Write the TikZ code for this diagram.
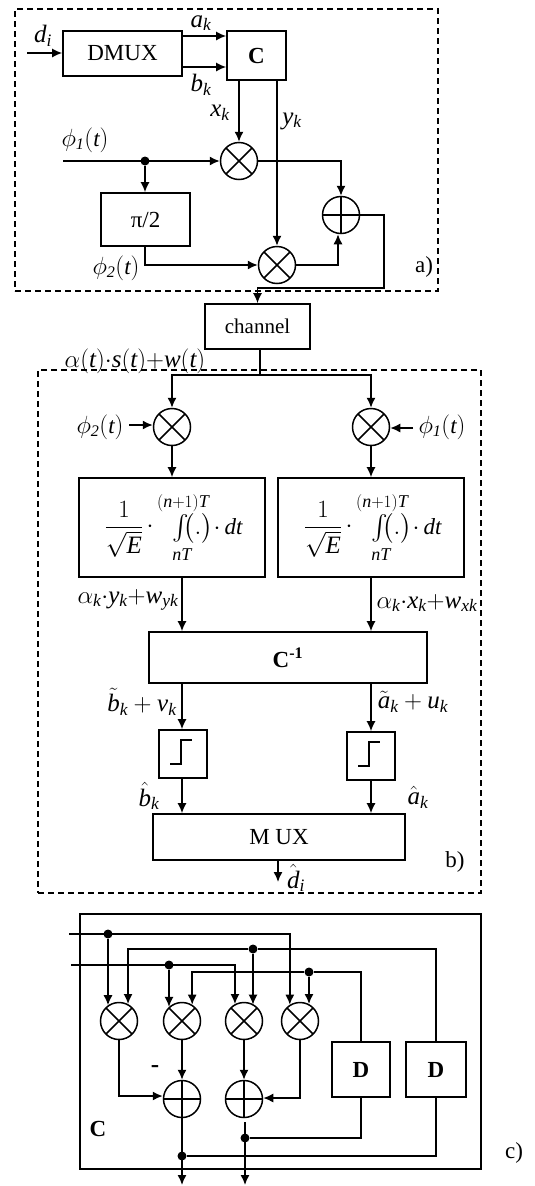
\documentclass[tikz,border=0pt]{standalone}
\usepackage{amsmath}
\usepackage{fontspec}
\setmainfont{Liberation Serif}
\usetikzlibrary{arrows.meta}
\newcommand{\mi}[1]{\mathit{#1}}
\tikzset{
    txtfont/.style={font=\fontsize{23}{26}\selectfont},
    lbl/.style={txtfont, inner sep=0pt},
    biglbl/.style={font=\fontsize{25}{28}\selectfont, inner sep=0pt},
    limlbl/.style={font=\fontsize{18}{21}\selectfont, inner sep=0pt},
    blockbox/.style={draw, line width=1.6pt, inner sep=0pt, txtfont},
    framebox/.style={draw, dashed, dash pattern=on 6pt off 4pt, line width=1.5pt},
    mulnode/.style={circle, draw, line width=1.5pt, minimum size=37pt, inner sep=0pt,
        path picture={\draw[line width=1.5pt] (path picture bounding box.north west) -- (path picture bounding box.south east)
            (path picture bounding box.north east) -- (path picture bounding box.south west);}},
    sumnode/.style={circle, draw, line width=1.5pt, minimum size=37pt, inner sep=0pt,
        path picture={\draw[line width=1.5pt] (path picture bounding box.north) -- (path picture bounding box.south)
            (path picture bounding box.east) -- (path picture bounding box.west);}},
    dotnode/.style={circle, fill=black, minimum size=9pt, inner sep=0pt},
    wire/.style={line width=1.5pt},
    arrowwire/.style={line width=1.5pt, -{Latex[length=10pt,width=9pt]}}
}
\begin{document}
\begin{tikzpicture}[x=1pt,y=-1pt]
    \useasboundingbox (0,0) rectangle (535,1186);

    % Transmitter frame
    \node[framebox, minimum width=423pt, minimum height=282pt] (framea) at (226.5,150) {};
    \node[lbl] (labela) at (424,267) {a)};
    \node[blockbox, minimum width=119pt, minimum height=45pt] (dmux) at (122.5,53.5) {DMUX};
    \node[blockbox, minimum width=59pt, minimum height=49pt] (cmap) at (256.5,55.5) {\textbf{C}};
    \node[mulnode] (mula) at (239,161) {};
    \node[mulnode] (mulb) at (277,265) {};
    \node[sumnode] (suma) at (341,215) {};
    \node[blockbox, minimum width=89pt, minimum height=53pt] (shift) at (145.5,219.5) {π/2};
    \node[dotnode] (dotphi) at (145,161) {};
    \coordinate (din) at (27,53);
    \coordinate (phiin) at (63,161);

    \node[biglbl] (di) at (43,36) {$\mi{d}_{\mi{i}}$};
    \node[biglbl] (ak) at (201,23) {$\mi{a}_{\mi{k}}$};
    \node[biglbl] (bk) at (201,85) {$\mi{b}_{\mi{k}}$};
    \node[biglbl] (xk) at (220,113) {$\mi{x}_{\mi{k}}$};
    \node[biglbl] (yk) at (292,121) {$\mi{y}_{\mi{k}}$};
    \node[lbl] (phia) at (85,140) {$\phi_{\mi{1}}\mi{(t)}$};
    \node[lbl] (phib) at (116,268) {$\phi_{\mi{2}}\mi{(t)}$};

    \draw[arrowwire] (din) -- (dmux.west |- din);
    \draw[arrowwire] (dmux.east |- 0,36) -- (cmap.west |- 0,36);
    \draw[arrowwire] (dmux.east |- 0,67) -- (cmap.west |- 0,67);
    \draw[arrowwire] (cmap.south -| mula) -- (mula);
    \draw[arrowwire] (cmap.south -| mulb) -- (mulb);
    \draw[arrowwire] (phiin) -- (mula);
    \draw[arrowwire] (dotphi) -- (shift.north -| dotphi);
    \draw[arrowwire] (shift.south -| dotphi) |- (mulb);
    \draw[arrowwire] (mula) -| (suma);
    \draw[arrowwire] (mulb.east) -| (suma.south -| 338,0);

    % Channel
    \node[blockbox, font=\fontsize{21}{24}\selectfont, minimum width=105pt, minimum height=45pt] (channel) at (257.5,326.5) {channel};
    \coordinate (turna) at (384,288);
    \draw[arrowwire] (suma) -| (turna) -| (channel.north);
    \coordinate (split) at (260,375);
    \node[biglbl] (rxin) at (135,361) {$\alpha\mi{(t)}{\cdot}\mi{s(t)}{+}\mi{w(t)}$};

    % Receiver frame
    \node[framebox, minimum width=443pt, minimum height=523pt] (frameb) at (259.5,631.5) {};
    \node[lbl] (labelb) at (455,862) {b)};
    \node[mulnode] (mulc) at (172,427) {};
    \node[mulnode] (muld) at (371,427) {};
    \node[lbl] (phic) at (100,427) {$\phi_{\mi{2}}\mi{(t)}$};
    \node[lbl] (phid) at (442,427) {$\phi_{\mi{1}}\mi{(t)}$};
    \coordinate (phicin) at (129,425);
    \coordinate (phidin) at (413,428);

    \draw[wire] (channel.south -| split) -- (split);
    \draw[arrowwire] (split) -| (mulc);
    \draw[arrowwire] (split) -| (muld);
    \draw[arrowwire] (phicin) -- (mulc.west |- phicin);
    \draw[arrowwire] (phidin) -- (muld.east |- phidin);

    % Integrators
    \foreach \intname/\xo in {intc/0,intd/199}{
        \node[blockbox, minimum width=185.5pt, minimum height=99pt] (\intname) at (172+\xo,527.5) {};
        \node[biglbl] (\intname frac) at (124+\xo,529) {$\displaystyle\frac{1}{\sqrt{\mi{E}}}$};
        \node[lbl] (\intname doa) at (150+\xo,527) {$\cdot$};
        \node[limlbl] (\intname up) at (183+\xo,503) {$(\mi{n}{+}1)\mi{T}$};
        \node[lbl] (\intname int) at (181+\xo,528) {$\int$};
        \node[lbl] (\intname par) at (198+\xo,528) {$\big(\mi{.}\big)$};
        \node[lbl] (\intname dt) at (228+\xo,527) {$\cdot\,\mi{dt}$};
        \node[limlbl] (\intname low) at (182+\xo,555) {$\mi{nT}$};
    }
    \draw[arrowwire] (mulc) -- (intc.north);
    \draw[arrowwire] (muld) -- (intd.north -| muld);

    \node[blockbox, minimum width=278pt, minimum height=51pt] (cinv) at (288,657.5) {\textbf{C\textsuperscript{-1}}};
    \node[biglbl] (ay) at (128,600) {$\alpha_{\mi{k}}{\cdot}\mi{y}_{\mi{k}}{+}\mi{w}_{\mi{yk}}$};
    \node[biglbl] (ax) at (427,603) {$\alpha_{\mi{k}}{\cdot}\mi{x}_{\mi{k}}{+}\mi{w}_{\mi{xk}}$};
    \coordinate (colb) at (182,0);
    \coordinate (cola) at (371,0);
    \draw[arrowwire] (intc.south -| colb) -- (cinv.north -| colb);
    \draw[arrowwire] (intd.south -| cola) -- (cinv.north -| cola);

    % Slicers
    \node[blockbox, minimum width=48pt, minimum height=48pt] (sliceb) at (183,754) {};
    \node[blockbox, minimum width=48pt, minimum height=48pt] (slicea) at (371,756) {};
    \draw[wire] (170,764) -- ++(11,0) -- ++(0,-24) -- ++(11,0);
    \draw[wire] (358,766) -- ++(11,0) -- ++(0,-24) -- ++(11,0);
    \node[blockbox, minimum width=252pt, minimum height=46pt] (mux) at (279,837) {M UX};
    \node[biglbl] (bt) at (142,702) {$\tilde{\mi{b}}_{\mi{k}}+\mi{v}_{\mi{k}}$};
    \node[biglbl] (at) at (413,702) {$\tilde{\mi{a}}_{\mi{k}}+\mi{u}_{\mi{k}}$};
    \node[biglbl] (bh) at (149,796) {$\hat{\mi{b}}_{\mi{k}}$};
    \node[biglbl] (ah) at (418,797) {$\hat{\mi{a}}_{\mi{k}}$};
    \node[biglbl] (dh) at (296,878) {$\hat{\mi{d}}_{\mi{i}}$};
    \coordinate (dout) at (278,882);
    \draw[arrowwire] (cinv.south -| colb) -- (sliceb.north -| colb);
    \draw[arrowwire] (cinv.south -| cola) -- (slicea.north -| cola);
    \draw[arrowwire] (sliceb.south -| colb) -- (mux.north -| colb);
    \draw[arrowwire] (slicea.south -| cola) -- (mux.north -| cola);
    \draw[arrowwire] (mux.south -| dout) -- (dout);

    % Mapper detail
    \node[draw, line width=1.6pt, minimum width=401pt, minimum height=255pt, inner sep=0pt] (cbox) at (280.5,1041.5) {};
    \node[lbl] (labelc) at (514,1153) {c)};
    \node[lbl] (cname) at (98,1129) {\textbf{C}};
    \node[biglbl] (minus) at (155,1069) {\textbf{-}};
    \foreach \mulname/\xm in {mca/119,mcb/182,mcc/244,mcd/300}
        \node[mulnode] (\mulname) at (\xm,1021) {};
    \node[sumnode] (sca) at (182,1099) {};
    \node[sumnode] (scb) at (244,1099) {};
    \node[blockbox, minimum width=58pt, minimum height=55pt] (da) at (361,1069.5) {\textbf{D}};
    \node[blockbox, minimum width=60pt, minimum height=55pt] (db) at (436,1069.5) {\textbf{D}};

    \node[dotnode] (dota) at (108,934) {};
    \node[dotnode] (dotb) at (253,949) {};
    \node[dotnode] (dotc) at (169,965) {};
    \node[dotnode] (dotd) at (309,972) {};
    \node[dotnode] (dote) at (182,1156) {};
    \node[dotnode] (dotf) at (245,1138) {};
    \coordinate (ina) at (69,934);
    \coordinate (inb) at (71,965);
    \coordinate (outa) at (182,1185);
    \coordinate (outb) at (245,1185);
    \coordinate (sumgap) at (245,1122);

    \draw[arrowwire] (ina) -| (mcd.122);
    \draw[arrowwire] (dota) -- (dota |- mca.125);
    \draw[arrowwire] (inb) -| (mcc.118);
    \draw[arrowwire] (dotc) -- (dotc |- mcb.133);
    \draw[wire] (db.north) |- (dotb);
    \draw[arrowwire] (dotb) -| (mca.62);
    \draw[arrowwire] (dotb) -- (dotb |- mcc.58);
    \draw[wire] (da.north) |- (dotd);
    \draw[arrowwire] (dotd) -| (mcb.58);
    \draw[arrowwire] (dotd) -- (dotd |- mcd.62);
    \draw[arrowwire] (mca) |- (sca.west |- 0,1096);
    \draw[arrowwire] (mcb) -- (sca);
    \draw[arrowwire] (mcc) -- (scb);
    \draw[arrowwire] (mcd) |- (scb.east |- 0,1098);
    \draw[arrowwire] (sca.south -| outa) -- (outa);
    \draw[arrowwire] (sumgap) -- (outb);
    \draw[wire] (dote) -| (db.south);
    \draw[wire] (dotf) -| (da.south);
\end{tikzpicture}
\end{document}
